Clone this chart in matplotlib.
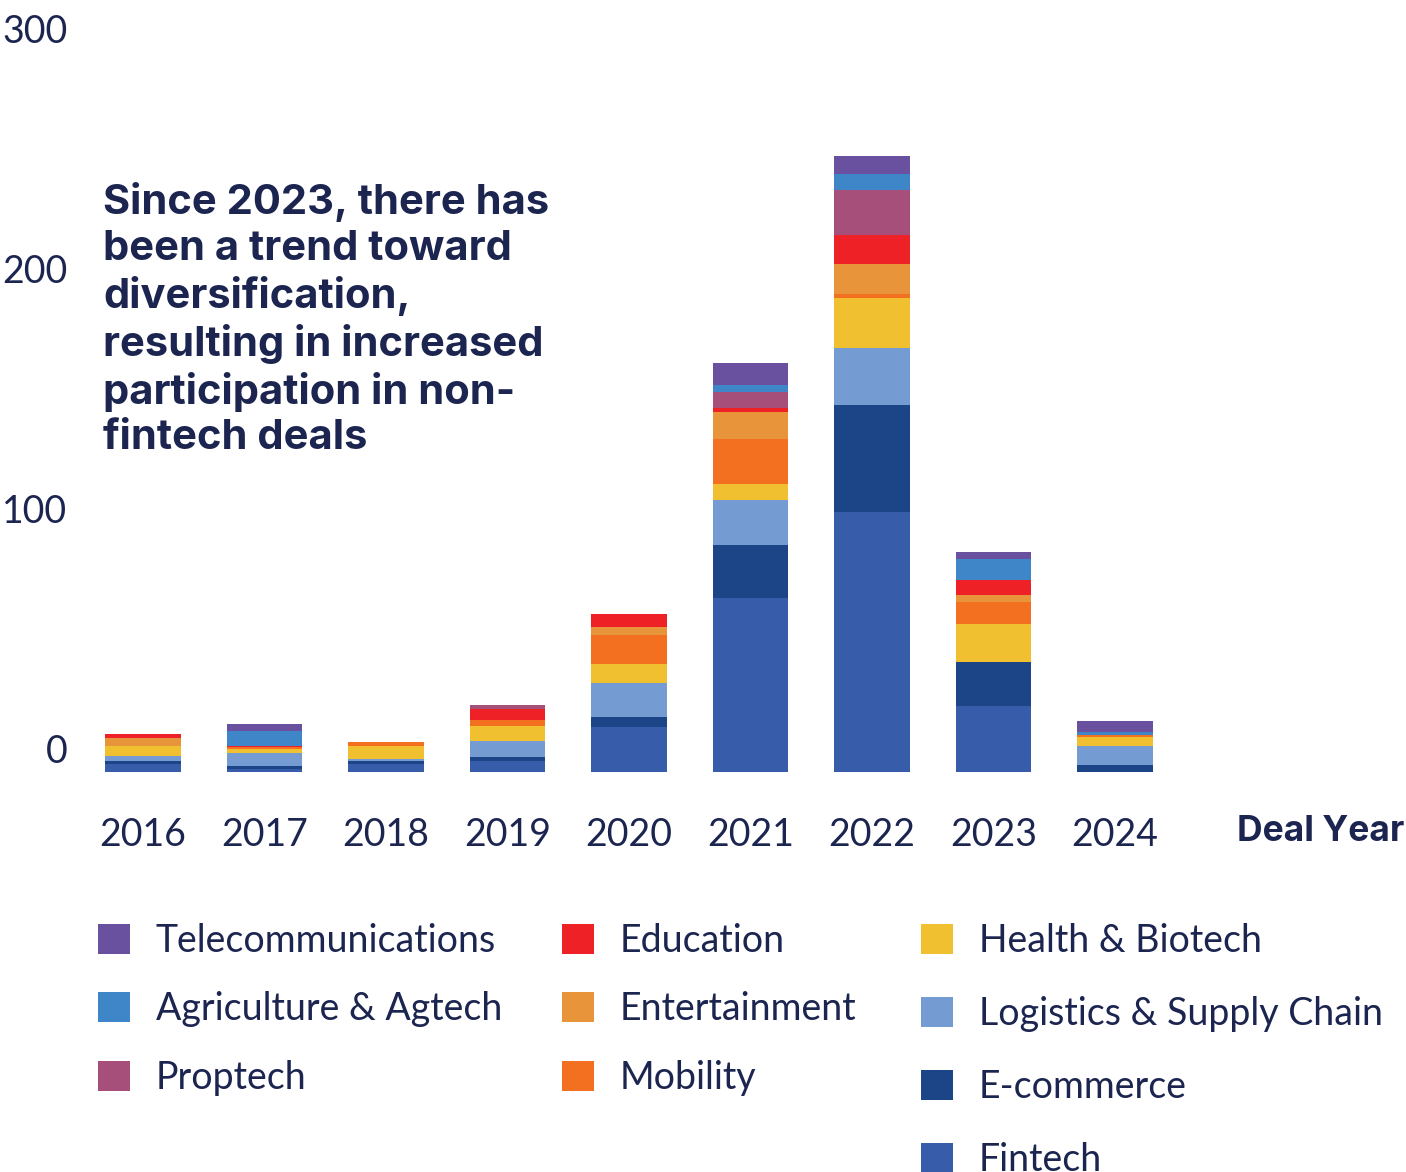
import numpy as np
import matplotlib
matplotlib.use("Agg")
import matplotlib.pyplot as plt
from matplotlib.patches import Patch
from matplotlib.transforms import ScaledTranslation

# -----------------------------------------------------------------------------
# Data (deals per sector and year)

years = ['2016', '2017', '2018', '2019', '2020', '2021', '2022', '2023', '2024']

fintech       = [3.3, 1.3, 3.3, 4.6, 18.8, 72.5, 108.5, 27.5, 0.0]
ecommerce     = [1.3, 1.3, 1.3, 1.7, 4.2, 22.1, 44.4, 18.3, 2.9]
logistics     = [2.1, 5.4, 0.8, 6.7, 14.2, 18.8, 23.8, 0.0, 7.9]
health        = [4.2, 1.7, 5.4, 6.3, 7.9, 6.7, 20.9, 15.8, 3.8]
mobility      = [0.0, 0.8, 1.7, 2.5, 12.1, 18.8, 1.7, 9.2, 0.8]
entertainment = [3.3, 0.0, 0.0, 0.0, 3.3, 11.3, 12.4, 2.9, 0.0]
education     = [1.7, 0.4, 0.0, 4.6, 5.4, 1.3, 12.1, 6.3, 0.0]
proptech      = [0.0, 0.0, 0.0, 1.7, 0.0, 6.7, 18.8, 0.0, 0.0]
agriculture   = [0.0, 6.3, 0.0, 0.0, 0.0, 2.9, 6.7, 8.8, 1.3]
telecom       = [0.0, 2.9, 0.0, 0.0, 0.0, 9.2, 7.2, 2.9, 4.6]

y_ticks = [0, 100, 200, 300]

# -----------------------------------------------------------------------------
# Styling

TEXT = '#1b2550'
FONT = ['Lato', 'DejaVu Sans']
BOLD_FONT = ['Inter', 'Lato', 'DejaVu Sans']
plt.rcParams['font.family'] = FONT

# bottom -> top stacking order, with colours
series = [
    ('Fintech', fintech, '#375daa'),
    ('E-commerce', ecommerce, '#1c4587'),
    ('Logistics & Supply Chain', logistics, '#759cd2'),
    ('Health & Biotech', health, '#f0c030'),
    ('Mobility', mobility, '#f37021'),
    ('Entertainment', entertainment, '#e8943a'),
    ('Education', education, '#ee2226'),
    ('Proptech', proptech, '#a64f7a'),
    ('Agriculture & Agtech', agriculture, '#3f86c8'),
    ('Telecommunications', telecom, '#6a51a0'),
]
colors = {name: c for name, _, c in series}

W, H = 1406, 1172
fig = plt.figure(figsize=(W / 100, H / 100), dpi=100)
ax = fig.add_axes([82 / W, (H - 772) / H, 1324 / W, 720 / H])

# -- Stacked bars
x = np.arange(len(years))
bottom = np.zeros(len(years))
for name, vals, c in series:
    vals = np.array(vals)
    ax.bar(x, vals, bottom=bottom, width=0.625, color=c, linewidth=0)
    bottom += vals

ax.set_xlim(-0.502, 10.395)
ax.set_ylim(0, 300)

for s in ax.spines.values():
    s.set_visible(False)

ax.set_xticks(x)
ax.set_xticklabels(years, fontsize=27, color=TEXT)
ax.set_yticks(y_ticks)
ax.set_yticklabels([str(t) for t in y_ticks], fontsize=27, color=TEXT)
ax.tick_params(axis='both', length=0)
ax.tick_params(axis='x', pad=32.5)
ax.tick_params(axis='y', pad=10.5)

# y labels sit a little above their value
offset = ScaledTranslation(0, 0.20, fig.dpi_scale_trans)
for lab in ax.get_yticklabels():
    lab.set_transform(lab.get_transform() + offset)
    lab.set_va('center')

ax.set_xlabel('Deal Year', fontsize=25.5, fontweight='bold', color=TEXT,
              ha='right', va='center', family=BOLD_FONT)
ax.xaxis.set_label_coords(0.9985, -0.083)

# -- Annotation
fig.text(103 / W, 1 - 182 / H,
         'Since 2023, there has\nbeen a trend toward\ndiversification,\n'
         'resulting in increased\nparticipation in non-\nfintech deals',
         fontsize=30, fontweight='bold', color=TEXT, va='top', ha='left',
         linespacing=1.25, family=BOLD_FONT)

# -- Legend, three columns
columns = [
    (['Telecommunications', 'Agriculture & Agtech', 'Proptech'], 98, 0.86),
    (['Education', 'Entertainment', 'Mobility'], 562, 0.86),
    (['Health & Biotech', 'Logistics & Supply Chain', 'E-commerce', 'Fintech'],
     921, 0.99),
]
for names, xpx, spacing in columns:
    handles = [Patch(facecolor=colors[n], edgecolor='none') for n in names]
    leg = fig.legend(handles, names, loc='upper left',
                     bbox_to_anchor=(xpx / W, 1 - 923 / H),
                     frameon=False, borderpad=0, borderaxespad=0,
                     handlelength=0.853, handleheight=0.853,
                     handletextpad=0.69, labelspacing=spacing,
                     prop={'size': 27, 'family': FONT})
    for t in leg.get_texts():
        t.set_color(TEXT)

fig.savefig('out.png', dpi=100, facecolor='white')
